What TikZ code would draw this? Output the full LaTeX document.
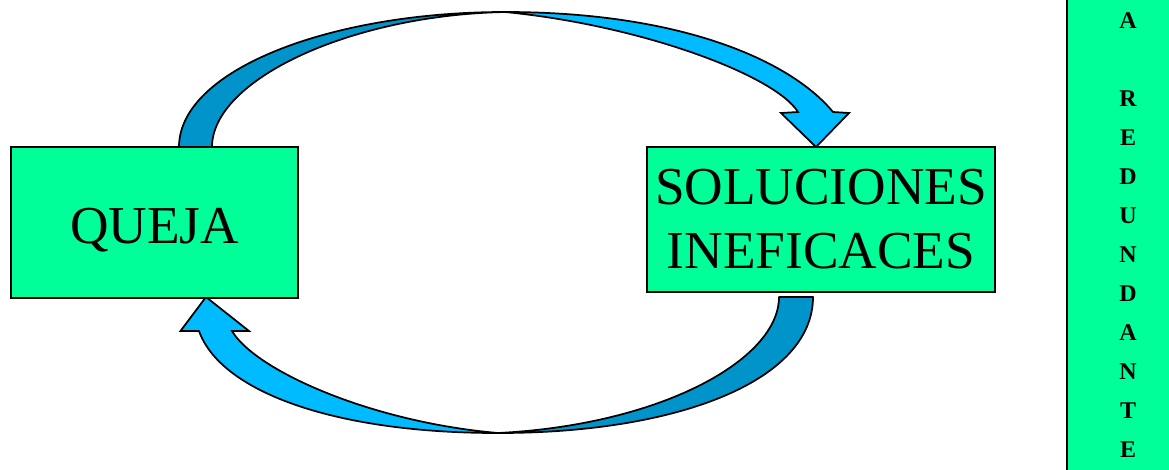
\documentclass[tikz,border=0pt]{standalone}
\usepackage{fontspec}
\setmainfont{Liberation Serif}
\usepackage{xcolor}
\definecolor{boxgreen}{RGB}{0,255,153}
\definecolor{bandlight}{RGB}{0,187,255}
\definecolor{banddark}{RGB}{0,148,202}

\begin{document}
\begin{tikzpicture}[x=0.75pt,y=-0.75pt,
box/.style={draw, line width=1.4pt, fill=boxgreen, inner sep=0pt, align=center, font=\fontsize{40}{48}\selectfont},
bar/.style={draw, line width=1.4pt, fill=boxgreen, inner sep=0pt, align=center, font=\fontsize{18}{29.25}\selectfont\bfseries},
dark/.style={fill=banddark, draw=black, line width=1.3pt, line join=round},
light/.style={fill=bandlight, draw=black, line width=1.3pt, line join=miter}]
	\useasboundingbox (0,0) rectangle (1169,469);
	\draw[dark] (179,147) .. controls (179,70) and (330,12) .. (505,12) .. controls (350,15) and (212,80) .. (212,147) -- cycle;
	\draw[light] (505,12) .. controls (680,12) and (790,60) .. (833,112) -- (849,113) -- (816,147) -- (781,113) -- (798,112) .. controls (775,75) and (640,25) .. (505,12) -- cycle;
	\draw[dark] (813,297) .. controls (813,380) and (680,433) .. (498,433) .. controls (660,425) and (779,360) .. (779,297) -- cycle;
	\draw[light] (498,433) .. controls (330,433) and (220,390) .. (199,331) -- (180.5,331) -- (206,297) -- (249,331) -- (232,331) .. controls (255,370) and (370,422) .. (498,433) -- cycle;
	\node[box, minimum width=215.25pt, minimum height=113.25pt, text height=30.75pt, text depth=0pt] at (154.5,222.5) (queja) {QUEJA};
	\node[box, minimum width=261pt, minimum height=108.75pt] at (821,219.5) (soluciones) {\raisebox{-2.5pt}{SOLUCIONES}\\\raisebox{-2.5pt}{INEFICACES}};
	\node[bar, minimum width=91.5pt, minimum height=390pt] at (1128,235.5) (redundante) {A\\[29.25pt]R\\E\\D\\U\\N\\D\\A\\N\\T\\E};
\end{tikzpicture}
\end{document}
